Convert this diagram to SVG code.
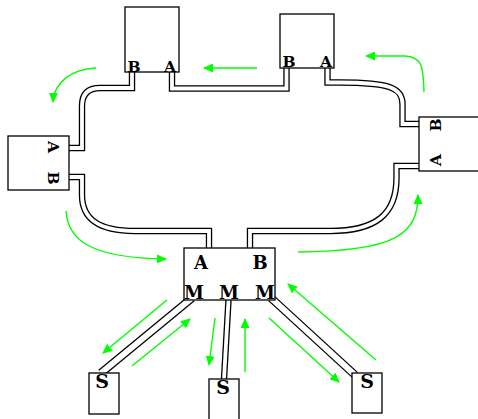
<svg xmlns="http://www.w3.org/2000/svg" width="478" height="419" viewBox="0 0 478 419">
<defs>
<style>
.box{fill:#fff;stroke:#000;stroke-width:1.3}
.rail{fill:none;stroke:#000;stroke-width:6.4}
.gap{fill:none;stroke:#fff;stroke-width:3.8}
.wrail{fill:none;stroke:#000;stroke-width:8.4}
.wgap{fill:none;stroke:#fff;stroke-width:5.8}
.flow{fill:none;stroke:#00ff00;stroke-width:1.4;marker-end:url(#ah)}
.lbl{font-family:"DejaVu Serif","Liberation Serif",serif;font-weight:bold;fill:#000;text-anchor:middle}
.s17{font-size:15.5px}
.s19{font-size:18px}
.s20{font-size:19px}
</style>
<marker id="ah" viewBox="0 0 10 9" refX="9" refY="4.5" markerWidth="10" markerHeight="9" markerUnits="userSpaceOnUse" orient="auto">
<path d="M0,0 L10,4.5 L0,9 z" fill="#00ff00"/>
</marker>
</defs>
<rect width="478" height="419" fill="#fff"/>
<g id="connectors">
<path class="rail" d="M132,72 V88 H100 Q82,88 82,106 V148 H69"/>
<path class="gap" d="M132,72 V88 H100 Q82,88 82,106 V148 H69"/>
<path class="rail" d="M69,177 H82 V195 C82,220 100,231 135,231 H209 V248"/>
<path class="gap" d="M69,177 H82 V195 C82,220 100,231 135,231 H209 V248"/>
<path class="rail" d="M172,72 V88.5 H286.5 V68"/>
<path class="gap" d="M172,72 V88.5 H286.5 V68"/>
<path class="rail" d="M327.5,68 V82.5 H340 C390,82.5 402.5,88 402.5,104 V124 H419"/>
<path class="gap" d="M327.5,68 V82.5 H340 C390,82.5 402.5,88 402.5,104 V124 H419"/>
<path class="rail" d="M419,166 H396.5 V178 C396.5,215 375,231 330,231 H250 V248"/>
<path class="gap" d="M419,166 H396.5 V178 C396.5,215 375,231 330,231 H250 V248"/>
<path class="wrail" d="M192,298 L101,373"/>
<path class="wgap" d="M192,298 L101,373"/>
<path class="rail" d="M228.5,300 L224,379"/>
<path class="gap" d="M228.5,300 L224,379"/>
<path class="wrail" d="M271,298 L355,375"/>
<path class="wgap" d="M271,298 L355,375"/>
<path class="flow" d="M96,68 C72,69 54,82 53,102"/>
<path class="flow" d="M257,68 L204,68"/>
<path class="flow" d="M424,92 C423,70 424,57 405,56 L366,56"/>
<path class="flow" d="M298,252 C395,251 418,235 418,195"/>
<path class="flow" d="M66,211 C68,240 90,258 166,259"/>
<path class="flow" d="M167,300 L103,353"/>
<path class="flow" d="M132,366 L190,319"/>
<path class="flow" d="M215,318 L209,365"/>
<path class="flow" d="M245,372 L245,319"/>
<path class="flow" d="M269,318 L339,382"/>
<path class="flow" d="M376,360 L288,284"/>
</g>
<g id="top-left">
<rect class="box" x="125" y="7" width="54" height="65"/>
<text class="lbl s17" x="134" y="72">B</text>
<text class="lbl s17" x="170" y="72">A</text>
</g>
<g id="top-right">
<rect class="box" x="280" y="14" width="54" height="54"/>
<text class="lbl s17" x="289" y="67">B</text>
<text class="lbl s17" x="326" y="67">A</text>
</g>
<g id="left">
<rect class="box" x="8" y="136" width="61" height="54"/>
<text class="lbl s17" transform="translate(48,147) rotate(90)">A</text>
<text class="lbl s17" transform="translate(48,178) rotate(90)">B</text>
</g>
<g id="right">
<rect class="box" x="419" y="117" width="70" height="54"/>
<text class="lbl s17" transform="translate(441,125) rotate(-90)">B</text>
<text class="lbl s17" transform="translate(441,160) rotate(-90)">A</text>
</g>
<g id="center">
<rect class="box" x="184" y="248" width="91" height="52"/>
<text class="lbl s19" x="201" y="269">A</text>
<text class="lbl s19" x="260" y="269">B</text>
<text class="lbl s19" x="194" y="299">M</text>
<text class="lbl s19" x="229" y="299">M</text>
<text class="lbl s19" x="265" y="299">M</text>
</g>
<g id="s-left">
<rect class="box" x="89" y="373" width="30" height="41"/>
<text class="lbl s20" x="102" y="388">S</text>
</g>
<g id="s-mid">
<rect class="box" x="209" y="379" width="30" height="45"/>
<text class="lbl s20" x="223" y="394">S</text>
</g>
<g id="s-right">
<rect class="box" x="352" y="373" width="30" height="40"/>
<text class="lbl s20" x="367" y="388">S</text>
</g>
</svg>
